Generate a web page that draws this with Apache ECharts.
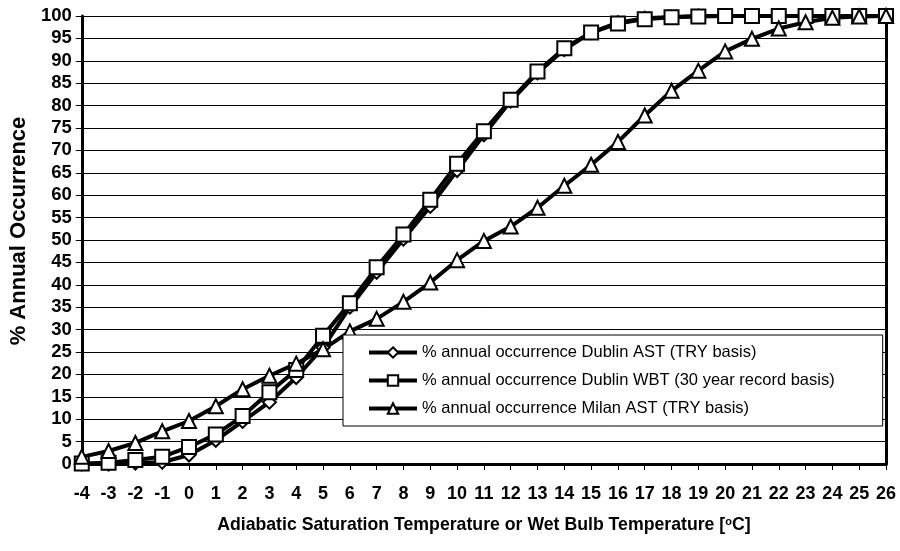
<!DOCTYPE html>
<html>
<head>
<meta charset="utf-8">
<script src="https://cdn.jsdelivr.net/npm/echarts@6/dist/echarts.min.js"></script>
<style>html,body{margin:0;padding:0;background:#fff}#c{width:900px;height:551px}</style>
</head>
<body>
<div id="c"></div>
<script>
const temperatures = [-4,-3,-2,-1,0,1,2,3,4,5,6,7,8,9,10,11,12,13,14,15,16,17,18,19,20,21,22,23,24,25,26];
const dublinAST = [0,0,0.2,0.4,2,5.3,9.5,13.8,19.3,26,35,42.8,50.2,57.5,65.5,73.5,81,87.3,92.5,96.3,98.5,99.5,99.8,100,100,100,100,100,100,100,100];
const dublinWBT = [0.1,0.3,0.9,1.6,3.8,6.6,10.7,16,21,28.6,35.9,43.9,51.2,59,67,74.3,81.3,87.6,92.8,96.3,98.3,99.3,99.7,99.9,100,100,100,100,100,100,100];
const milanAST = [1.6,2.9,4.7,7.3,9.6,12.9,16.7,19.7,22.4,25.6,29.6,32.4,36.2,40.5,45.5,49.8,53,57.2,62.1,66.8,71.9,77.8,83.3,87.8,92.1,94.9,97.2,98.6,99.6,99.9,100];
const seriesNames = [
  '% annual occurrence Dublin AST (TRY basis)',
  '% annual occurrence Dublin WBT (30 year record basis)',
  '% annual occurrence Milan AST (TRY basis)'
];
const yTicks = {min:0, max:100, interval:5};

const FONT = 'Liberation Sans, Arial, sans-serif';
const chart = echarts.init(document.getElementById('c'), null, {renderer:'canvas'});
function mk(name, data, symbol, size){
  return {
    name, type:'line', data, symbol, symbolSize:size, showAllSymbol:true,
    lineStyle:{color:'#000', width:4},
    itemStyle:{color:'#fff', borderColor:'#000', borderWidth:2},
    emphasis:{disabled:true}, animation:false, z:3
  };
}
chart.setOption({
  animation:false,
  backgroundColor:'#fff',
  grid:{left:80, right:14, top:16, bottom:87, containLabel:false},
  legend:{
    orient:'vertical', left:343, top:335,
    padding:[9,48,9,24], itemGap:11,
    backgroundColor:'#fff', borderColor:'#000', borderWidth:1,
    itemWidth:48, itemHeight:13,
    lineStyle:{width:4, color:'#000'},
    textStyle:{fontFamily:FONT, fontSize:16.5, color:'#000'},
    data:seriesNames
  },
  xAxis:{
    type:'category', data:temperatures, boundaryGap:false,
    axisLine:{lineStyle:{color:'#000', width:3}},
    axisTick:{show:true, inside:false, length:6, lineStyle:{color:'#000', width:1}},
    axisLabel:{fontFamily:FONT, fontWeight:'bold', fontSize:18, color:'#000', margin:21, interval:0},
    splitLine:{show:false},
    name:'Adiabatic Saturation Temperature or Wet Bulb Temperature [{sup|o}C]',
    nameLocation:'middle', nameGap:52,
    nameTextStyle:{fontFamily:FONT, fontWeight:'bold', fontSize:17.7, color:'#000',
      rich:{sup:{fontFamily:FONT, fontWeight:'bold', fontSize:11, color:'#000', verticalAlign:'top', padding:[0,0,8,0]}}}
  },
  yAxis:[{
    type:'value', min:yTicks.min, max:yTicks.max, interval:yTicks.interval,
    axisLine:{show:true, lineStyle:{color:'#000', width:3}},
    axisTick:{show:true, inside:false, length:6, lineStyle:{color:'#000', width:1}},
    axisLabel:{fontFamily:FONT, fontWeight:'bold', fontSize:18.5, color:'#000', margin:10},
    splitLine:{show:true, lineStyle:{color:'#000', width:1}},
    name:'% Annual Occurrence', nameLocation:'middle', nameRotate:90, nameGap:50,
    nameTextStyle:{fontFamily:FONT, fontWeight:'bold', fontSize:22, color:'#000', padding:[0,0,0,18]}
  },{
    type:'value', min:yTicks.min, max:yTicks.max, interval:yTicks.interval, position:'right',
    axisLine:{show:true, lineStyle:{color:'#000', width:3}},
    axisTick:{show:false}, axisLabel:{show:false}, splitLine:{show:false}
  }],
  series:[
    mk(seriesNames[0], dublinAST, 'diamond', 13),
    mk(seriesNames[1], dublinWBT, 'rect', 14),
    mk(seriesNames[2], milanAST, 'triangle', 14)
  ]
});
</script>
</body>
</html>
